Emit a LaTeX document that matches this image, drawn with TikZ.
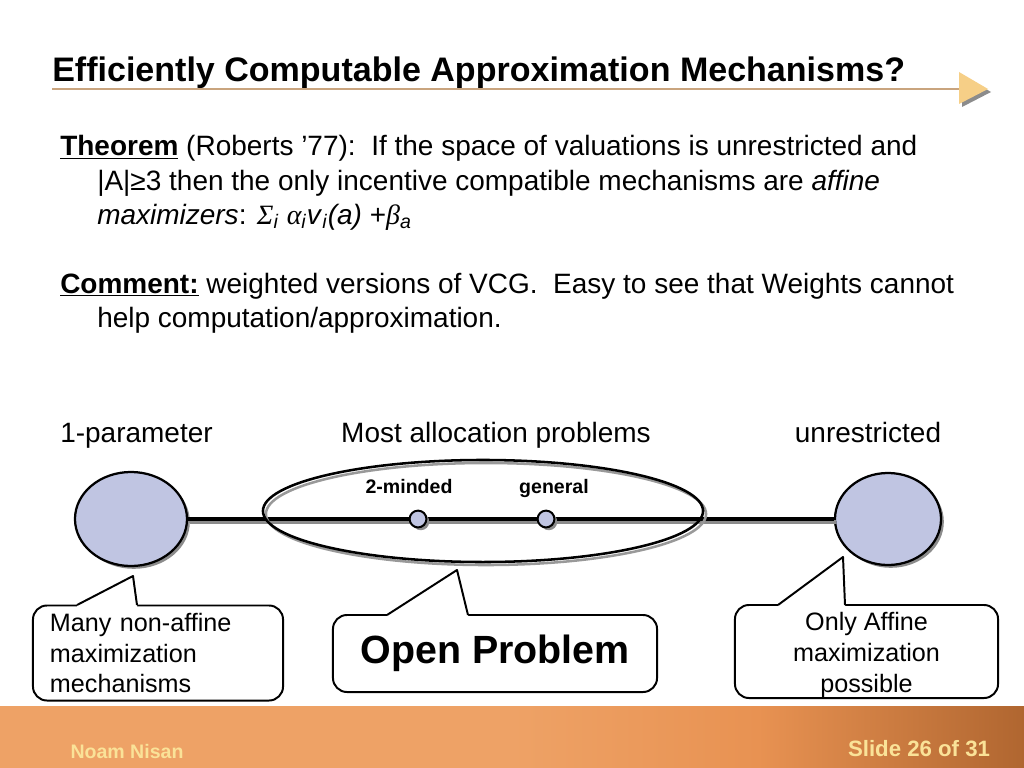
\documentclass[tikz,border=0pt]{standalone}
\usepackage{fontspec}
\setmainfont{Liberation Sans}
\newfontfamily\grkfont{Liberation Serif}
\newcommand{\grk}[1]{{\grkfont\itshape #1}}
\usetikzlibrary{shapes.geometric,shadows}

\definecolor{ringfill}{RGB}{192,197,226}
\definecolor{ruletan}{RGB}{201,164,126}
\definecolor{arrowgold}{RGB}{246,207,135}
\definecolor{footlight}{RGB}{238,162,102}
\definecolor{footmid}{RGB}{232,146,82}
\definecolor{footdark}{RGB}{176,102,48}
\definecolor{footink}{RGB}{250,226,152}

\pgfdeclarehorizontalshading{footband}{100bp}{color(0bp)=(footlight);
  color(25bp)=(footlight); color(50bp)=(footlight); color(62bp)=(footmid);
  color(75bp)=(footdark); color(100bp)=(footdark)}

\tikzset{
  body/.style={anchor=base west,inner sep=0pt,
    font=\fontsize{19.9}{24}\selectfont},
  tag/.style={anchor=base,inner sep=0pt,
    font=\bfseries\fontsize{13.9}{16}\selectfont},
  softshadow/.style={drop shadow={shadow xshift=2pt,shadow yshift=-2pt,
    fill=black!45,opacity=1}},
  blob/.style={ellipse,draw,line width=1.6pt,fill=ringfill,inner sep=0pt,
    softshadow},
  spot/.style={circle,draw,line width=1.4pt,fill=ringfill,inner sep=0pt,
    minimum size=0.42cm,softshadow},
  ring/.style={ellipse,draw,line width=1.8pt,inner sep=0pt,
    minimum width=11cm,minimum height=2.55cm},
  axis/.style={line width=2.6pt},
  bubble/.style={draw,line width=1.4pt,fill=white,rounded corners=0.35cm,
    inner sep=0pt},
  bubtext/.style={font=\fontsize{17.9}{22}\selectfont},
}

\begin{document}
\begin{tikzpicture}[x=0.025cm,y=-0.025cm,line join=round]
  \useasboundingbox (0,0) rectangle (1024,768);
  \fill[white] (0,0) rectangle (1024,768);

  % footer band
  \shade[shading=footband] (0,706) rectangle (1024,768);
  \node[font=\bfseries\fontsize{13.9}{16}\selectfont,text=footink]
    (author) at (127,752) {Noam Nisan};
  \node[font=\bfseries\fontsize{15.8}{18}\selectfont,text=footink]
    (slideno) at (919,749) {Slide 26 of 31};

  % title with rule and arrow
  \node[anchor=base west,inner sep=0pt,
    font=\bfseries\fontsize{24.2}{28}\selectfont] (title) at (52,82)
    {Efficiently Computable Approximation Mechanisms?};
  \draw[ruletan,line width=1.1pt] (52,89) -- (959,89);
  \fill[black!45] (962,75) -- (991,92) -- (962,107) -- cycle;
  \fill[arrowgold] (959,72) -- (988,89) -- (959,104) -- cycle;

  % text block
  \node[body] (thm1) at (60,156)
    {\underline{\textbf{Theorem}} (Roberts ’77):\ \ If the space of valuations is unrestricted and};
  \node[body] (thm2) at (97,190)
    {|A|≥3 then the only incentive compatible mechanisms are \textit{affine}};
  \node[body] (thm3) at (97,224)
    {\textit{maximizers}: \grk{Σ}\textsubscript{\textit{i}} \grk{α}\textsubscript{\textit{i}}\textit{v}\textsubscript{\textit{i}}\textit{(a)} +\grk{β}\textsubscript{\textit{a}}};
  \node[body] (cmt1) at (60,293)
    {\underline{\textbf{Comment:}} weighted versions of VCG.\ \ Easy to see that Weights cannot};
  \node[body] (cmt2) at (97,327) {help computation/approximation.};

  % row of headings
  \node[body] (oneparam) at (60,442) {1-parameter};
  \node[body,anchor=base] (mostalloc) at (496,442) {Most allocation problems};
  \node[body,anchor=base] (unrestr) at (868,442) {unrestricted};

  % the spectrum
  \node[blob,minimum width=2.8cm,minimum height=2.35cm] (single) at (131,519) {};
  \node[blob,minimum width=2.65cm,minimum height=2.3cm] (unres) at (888,519) {};
  \draw[axis,black!45] ([shift={(2,3)}]single.east) -- ([shift={(2,3)}]unres.west);
  \draw[axis] (single.east) -- (unres.west);
  \node[ring,black!40] at (486,514) {};
  \node[ring] (alloc) at (483,511) {};
  \node[spot] (twomind) at (418,519) {};
  \node[spot] (generic) at (546,519) {};
  \node[tag] (twolbl) at (409,493) {2-minded};
  \node[tag] (genlbl) at (554,493) {general};

  % callouts
  \node[bubble,bubtext,minimum width=6.25cm,minimum height=2.375cm,
    text width=5.4cm,align=left] (manybox) at (158,653)
    {Many non-affine\\maximization\\mechanisms};
  \coordinate (manytip) at (133,576);
  \fill[white] (77,607) -- (77,605) -- (manytip) -- (137,605) -- (137,607) -- cycle;
  \draw[line width=1.4pt] (77,605) -- (manytip) -- (137,605);

  \node[bubble,minimum width=8.1cm,minimum height=1.925cm,
    font=\bfseries\fontsize{28}{32}\selectfont] (openbox) at (495,653.5)
    {Open Problem};
  \coordinate (opentip) at (457,570);
  \fill[white] (387,617) -- (387,615) -- (opentip) -- (468,615) -- (468,617) -- cycle;
  \draw[line width=1.4pt] (387,615) -- (opentip) -- (468,615);

  \node[bubble,minimum width=6.575cm,minimum height=2.325cm] (affbox)
    at (866.5,651.5) {};
  \node[bubtext,align=center,inner sep=0pt] (afftext) at (866.5,655)
    {Only Affine\\maximization\\possible};
  \coordinate (afftip) at (843,557);
  \fill[white] (778,607) -- (778,605) -- (afftip) -- (845,605) -- (845,607) -- cycle;
  \draw[line width=1.4pt] (778,605) -- (afftip) -- (845,605);
\end{tikzpicture}
\end{document}
